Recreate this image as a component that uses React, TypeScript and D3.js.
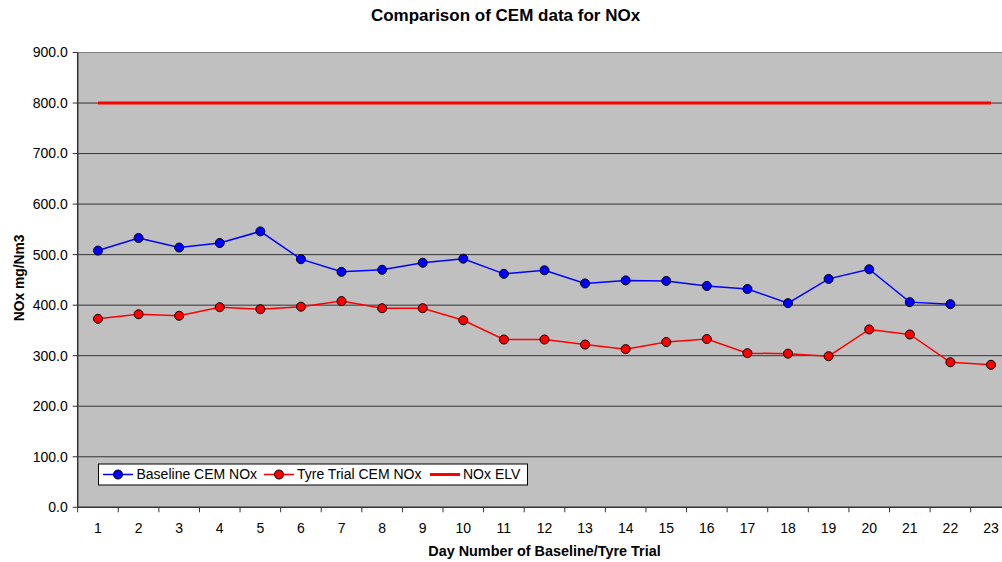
import React from "react";
import * as d3 from "d3";

const days = Array.from({ length: 23 }, (_, i) => String(i + 1));
const baseline = [508, 533, 514, 523, 546, 491, 466, 470, 484, 492, 462, 469, 443, 449, 448, 438, 432, 404, 452, 471, 406, 402];
const tyreTrial = [373, 382, 379, 396, 392, 397, 408, 394, 394, 370, 332, 332, 322, 313, 327, 333, 305, 304, 299, 352, 342, 287, 282];
const elvValue = 800;
const yTicks = [0, 100, 200, 300, 400, 500, 600, 700, 800, 900];

const W = 1002, H = 562;
const L = 77.7, T = 52.5, B = 507.3;
const bandW = 40.59;
const R = L + bandW * 23;

export default function App() {
  const x = d3.scaleBand<string>().domain(days).range([L, R]).paddingInner(0).paddingOuter(0);
  const cx = (d: string) => (x(d) as number) + x.bandwidth() / 2;
  const y = d3.scaleLinear().domain([0, 900]).range([B, T]);
  const line = d3.line<[number, number]>().x(d => d[0]).y(d => d[1]);
  const bPts: [number, number][] = baseline.map((v, i) => [cx(days[i]), y(v)]);
  const tPts: [number, number][] = tyreTrial.map((v, i) => [cx(days[i]), y(v)]);
  const ePts: [number, number][] = days.map(d => [cx(d), y(elvValue)]);
  const font = "'Liberation Sans', Arial, sans-serif";
  const boundaries = d3.range(0, 24).map(i => L + i * bandW);
  return (
    <svg width={W} height={H} style={{ position: "absolute", left: 0, top: 0, background: "#fff" }} fontFamily={font}>
      <rect x={L} y={T} width={W - L} height={B - T} fill="#c0c0c0" />
      <line x1={L} x2={W} y1={T} y2={T} stroke="#808080" strokeWidth={1} />
      {yTicks.filter(t => t > 0 && t < 900).map(t => (
        <line key={t} x1={L} x2={W} y1={y(t)} y2={y(t)} stroke="#333" strokeWidth={1} />
      ))}
      {yTicks.map(t => (
        <g key={"yt" + t}>
          <line x1={L - 5} x2={L} y1={y(t)} y2={y(t)} stroke="#333" />
          <text x={L - 10} y={y(t)} dy="0.35em" textAnchor="end" fontSize={14} fill="#000">{t.toFixed(1)}</text>
        </g>
      ))}
      <line x1={L} x2={L} y1={T} y2={B} stroke="#333" strokeWidth={1.5} />
      <line x1={L} x2={W} y1={B} y2={B} stroke="#333" strokeWidth={1.5} />
      {boundaries.map((bx, i) => (
        <line key={"xt" + i} x1={bx} x2={bx} y1={B} y2={B + 5} stroke="#333" />
      ))}
      {days.map(d => (
        <text key={"xl" + d} x={cx(d)} y={B + 26} textAnchor="middle" fontSize={14} fill="#000">{d}</text>
      ))}
      <path d={line(ePts) || ""} fill="none" stroke="#ff0000" strokeWidth={3} />
      <path d={line(bPts) || ""} fill="none" stroke="#0000ff" strokeWidth={1.5} />
      <path d={line(tPts) || ""} fill="none" stroke="#ff0000" strokeWidth={1.5} />
      {bPts.map((p, i) => <circle key={"b" + i} cx={p[0]} cy={p[1]} r={4.5} fill="#0000ff" stroke="#000" strokeWidth={1} />)}
      {tPts.map((p, i) => <circle key={"t" + i} cx={p[0]} cy={p[1]} r={4.5} fill="#ff0000" stroke="#000" strokeWidth={1} />)}
      <text x={505.5} y={21} textAnchor="middle" fontSize={17} fontWeight="bold" fill="#000">Comparison of CEM data for NOx</text>
      <text transform={`translate(23.5,${(T + B) / 2 - 2}) rotate(-90)`} textAnchor="middle" fontSize={13.8} fontWeight="bold" fill="#000">NOx mg/Nm3</text>
      <text x={(L + R) / 2} y={556} textAnchor="middle" fontSize={14.4} fontWeight="bold" fill="#000">Day Number of Baseline/Tyre Trial</text>
      <g>
        <rect x={98.5} y={464} width={429} height={21} fill="#fff" stroke="#000" strokeWidth={1} />
        <line x1={103} x2={133} y1={474.5} y2={474.5} stroke="#0000ff" strokeWidth={1.5} />
        <circle cx={118} cy={474.5} r={4.5} fill="#0000ff" stroke="#000" />
        <text x={136.5} y={474.5} dy="0.35em" fontSize={14} fill="#000">Baseline CEM NOx</text>
        <line x1={264} x2={294} y1={474.5} y2={474.5} stroke="#ff0000" strokeWidth={1.5} />
        <circle cx={279} cy={474.5} r={4.5} fill="#ff0000" stroke="#000" />
        <text x={297} y={474.5} dy="0.35em" fontSize={14} fill="#000">Tyre Trial CEM NOx</text>
        <line x1={430} x2={460} y1={474.5} y2={474.5} stroke="#ff0000" strokeWidth={3} />
        <text x={463} y={474.5} dy="0.35em" fontSize={14} fill="#000">NOx ELV</text>
      </g>
    </svg>
  );
}
